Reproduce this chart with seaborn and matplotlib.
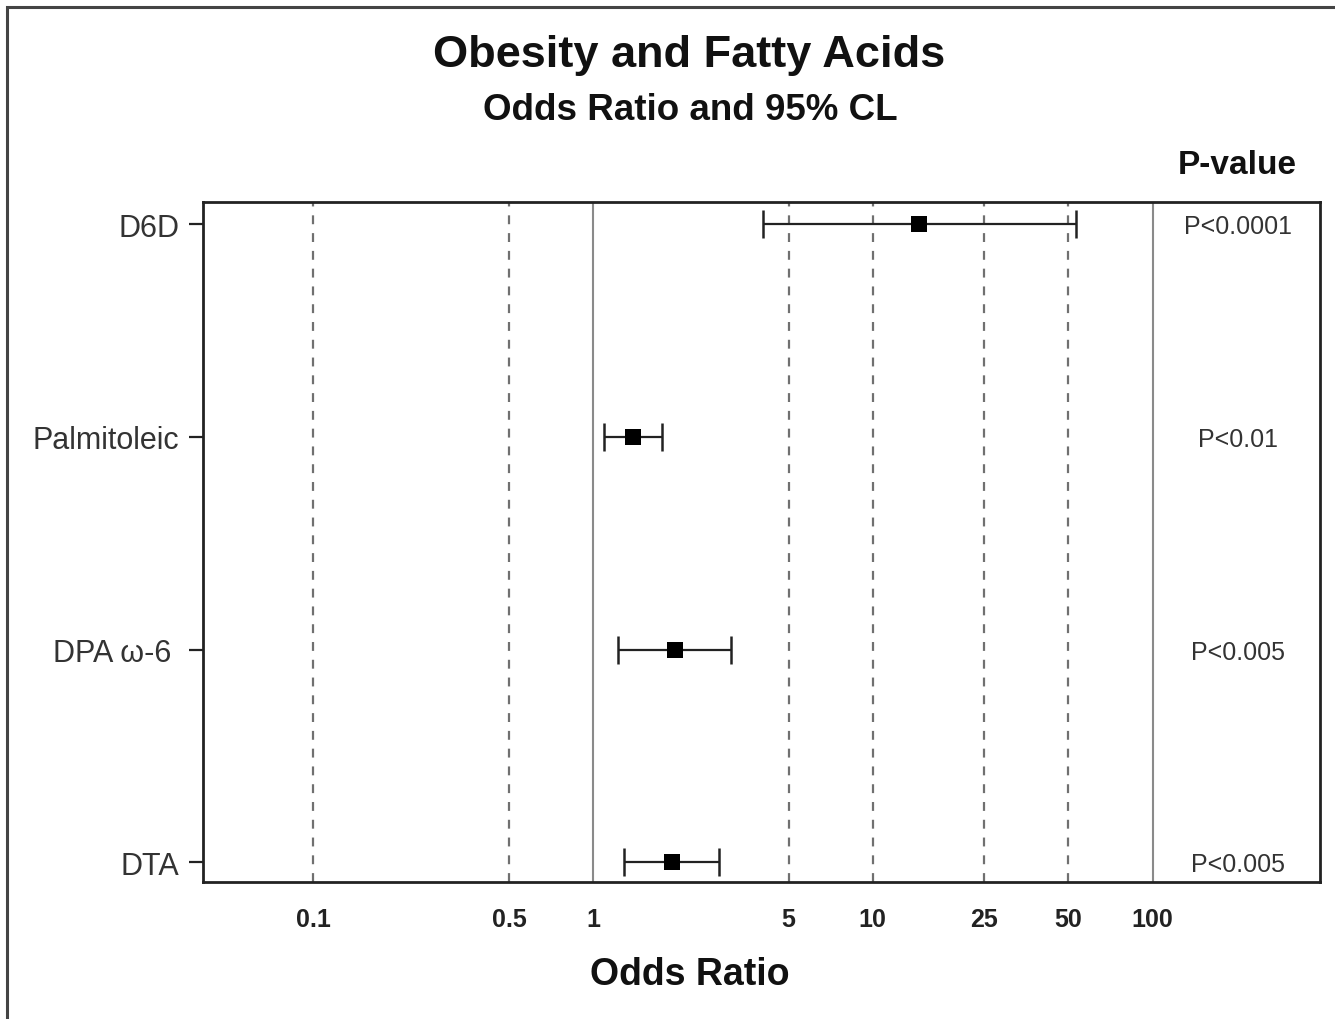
import matplotlib.pyplot as plt
import numpy as np
import pandas as pd
import seaborn as sns
from matplotlib.patches import Rectangle
from matplotlib.ticker import FixedLocator, NullFormatter

# %% data
categories = ["D6D", "Palmitoleic", "DPA ω-6 ", "DTA"]
odds_ratio = [14.6, 1.39, 1.96, 1.92]
ci_lower = [4.05, 1.09, 1.23, 1.29]
ci_upper = [53.1, 1.76, 3.11, 2.82]
p_values = ["P<0.0001", "P<0.01", "P<0.005", "P<0.005"]

solid_refs = [1, 100]
dashed_refs = [0.1, 0.5, 5, 10, 25, 50]
major_ticks = [0.1, 1, 10, 100]
minor_ticks = [0.5, 5, 25, 50]

df = pd.DataFrame(
    {"name": categories, "or": odds_ratio, "lo": ci_lower, "hi": ci_upper, "p": p_values}
)
df["pos"] = np.arange(len(df))

# %%
sns.set_style("white")
plt.rcParams["font.family"] = ["Liberation Sans", "DejaVu Sans"]

fig = plt.figure(figsize=(13.35, 10.2), dpi=100)
ax = fig.add_axes([203 / 1335, 1 - 883 / 1020, (1320 - 203) / 1335, (883 - 203) / 1020])

for v in solid_refs:
    ax.axvline(v, color="#8a8a8a", lw=1.5, zorder=1)
for v in dashed_refs:
    ax.axvline(v, color="#707070", lw=1.6, ls=(0, (4, 4)), zorder=1)

ax.errorbar(
    df["or"],
    df["pos"],
    xerr=[df["or"] - df["lo"], df["hi"] - df["or"]],
    fmt="none",
    ecolor="#222222",
    elinewidth=1.6,
    capsize=10,
    capthick=1.8,
    zorder=2,
)
sns.scatterplot(
    data=df, x="or", y="pos", marker="s", s=130, color="black",
    edgecolor="black", linewidth=0, zorder=3, ax=ax,
)

for _, row in df.iterrows():
    ax.text(202, row["pos"] + 0.01, row["p"], ha="center", va="center",
            fontsize=18, color="#333333")

ax.set_xscale("log")
ax.set_xlim(0.0403, 397)
ax.set_ylim(3.093, -0.104)

ax.xaxis.set_major_locator(FixedLocator(major_ticks))
ax.xaxis.set_minor_locator(FixedLocator(minor_ticks))
ax.set_xticklabels(["0.1", "1", "10", "100"])
ax.xaxis.set_minor_formatter(NullFormatter())
ax.set_xticks(minor_ticks, labels=["0.5", "5", "25", "50"], minor=True)
ax.tick_params(axis="x", which="major", length=10, width=1.6, color="#222222",
               labelsize=18, pad=8)
ax.tick_params(axis="x", which="minor", length=0, labelsize=18, pad=18)
for lab in ax.get_xticklabels(which="both"):
    lab.set_fontweight("bold")
    lab.set_color("#222222")

ax.set_yticks(df["pos"], labels=df["name"])
ax.tick_params(axis="y", length=10, width=1.6, color="#222222", labelsize=22,
               labelcolor="#333333", pad=7, left=True)

for s in ax.spines.values():
    s.set_linewidth(2.0)
    s.set_color("#222222")

ax.set_xlabel("")
ax.set_ylabel("")

fig.text(689 / 1335, 1 - 55 / 1020, "Obesity and Fatty Acids", ha="center",
         va="center", fontsize=32.5, fontweight="bold", color="#111111")
fig.text(690 / 1335, 1 - 111 / 1020, "Odds Ratio and 95% CL", ha="center",
         va="center", fontsize=26.5, fontweight="bold", color="#111111")
fig.text(1237 / 1335, 1 - 165 / 1020, "P-value", ha="center", va="center",
         fontsize=24, fontweight="bold", color="#111111")
fig.text(690 / 1335, 1 - 975 / 1020, "Odds Ratio", ha="center", va="center",
         fontsize=27, fontweight="bold", color="#111111")

# outer frame, right and bottom edges cut off in the source image
fig.patches.append(
    Rectangle((7 / 1335, -0.1), 1.2, 1.1 - 8 / 1020, transform=fig.transFigure,
              fill=False, lw=2.2, edgecolor="#444444")
)

fig.savefig("out.png", dpi=100)
